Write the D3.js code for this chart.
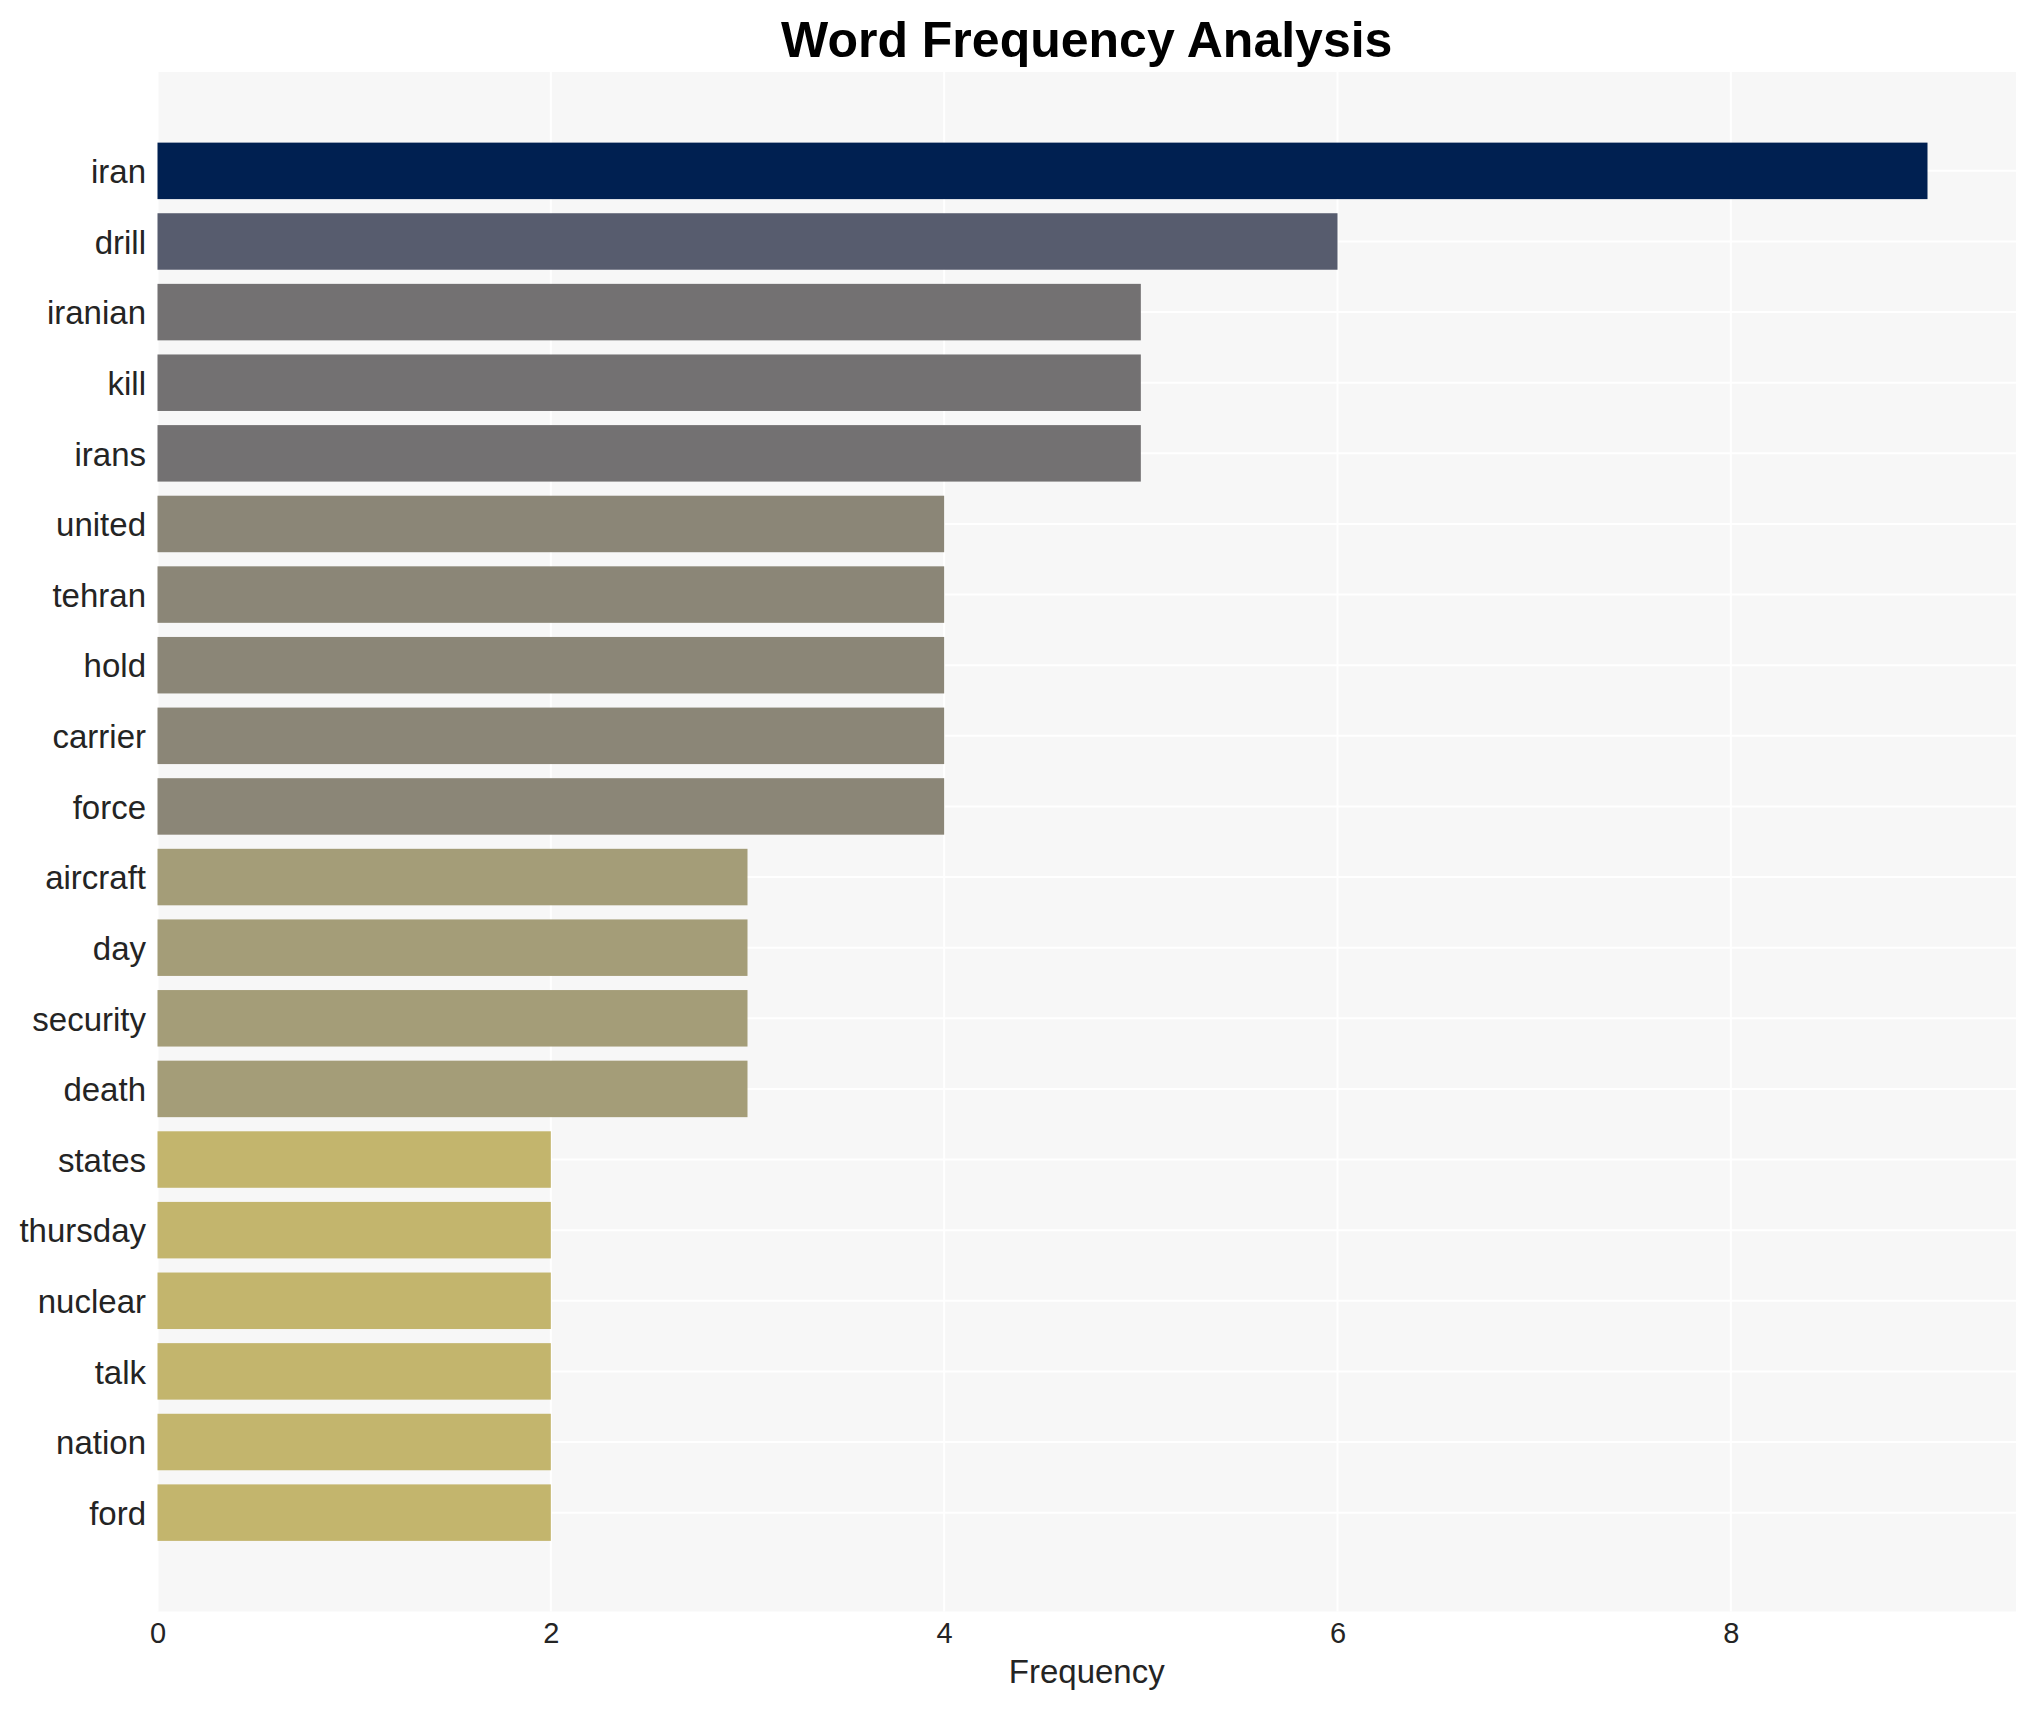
<!DOCTYPE html>
<html>
<head>
<meta charset="utf-8">
<script src="https://cdn.jsdelivr.net/npm/d3@7"></script>
<style>
  html, body { margin: 0; padding: 0; background: #ffffff; }
  svg { display: block; }
</style>
</head>
<body>
<svg id="chart" width="2037" height="1710"></svg>
<script>
const words = ["iran","drill","iranian","kill","irans","united","tehran","hold","carrier","force",
               "aircraft","day","security","death","states","thursday","nuclear","talk","nation","ford"];
const frequencies = [9,6,5,5,5,4,4,4,4,4,3,3,3,3,2,2,2,2,2,2];
const xTicks = [0,2,4,6,8];
const titleText = "Word Frequency Analysis";
const xTitle = "Frequency";

const W = 2037, H = 1710;
const m = {left: 157.5, right: 2016, top: 72, bottom: 1611.5};
const font = "'Liberation Sans', Arial, Helvetica, sans-serif";

const svg = d3.select("#chart");
const maxV = d3.max(frequencies);

const x = d3.scaleLinear().domain([0, maxV * 1.05]).range([m.left, m.right]);
const y = d3.scaleBand().domain(words).range([m.top, m.bottom]).paddingInner(0.2).paddingOuter(1.0);
const color = v => d3.interpolateCividis(1 - v / maxV);

// plot background
svg.append("rect")
  .attr("x", m.left).attr("y", m.top)
  .attr("width", m.right - m.left).attr("height", m.bottom - m.top)
  .attr("fill", "#f7f7f7");

// vertical gridlines
svg.append("g").selectAll("line").data(xTicks).join("line")
  .attr("x1", d => x(d)).attr("x2", d => x(d))
  .attr("y1", m.top).attr("y2", m.bottom)
  .attr("stroke", "#ffffff").attr("stroke-width", 2);

// horizontal gridlines at category centers
svg.append("g").selectAll("line").data(words).join("line")
  .attr("x1", m.left).attr("x2", m.right)
  .attr("y1", d => y(d) + y.bandwidth() / 2).attr("y2", d => y(d) + y.bandwidth() / 2)
  .attr("stroke", "#ffffff").attr("stroke-width", 2);

// bars
svg.append("g").selectAll("rect").data(words).join("rect")
  .attr("x", x(0))
  .attr("y", d => y(d))
  .attr("width", (d, i) => x(frequencies[i]) - x(0))
  .attr("height", y.bandwidth())
  .attr("fill", (d, i) => color(frequencies[i]));

// y axis labels
const yAxis = d3.axisLeft(y).tickSize(0).tickPadding(11.5);
const gy = svg.append("g").attr("transform", `translate(${m.left},0)`).call(yAxis);
gy.select(".domain").remove();
gy.selectAll("text")
  .style("font-family", font).style("font-size", "33px").attr("fill", "#242424")
  .attr("dy", "0.37em");

// x axis
const xAxis = d3.axisBottom(x).tickValues(xTicks).tickSize(0).tickPadding(11).tickFormat(d3.format("d"));
const gx = svg.append("g").attr("transform", `translate(0,${m.bottom})`).call(xAxis);
gx.select(".domain").remove();
gx.selectAll("text")
  .style("font-family", font).style("font-size", "29px").attr("fill", "#242424");

// x title
svg.append("text")
  .attr("x", (m.left + m.right) / 2).attr("y", 1683)
  .attr("text-anchor", "middle")
  .style("font-family", font).style("font-size", "33px").attr("fill", "#242424")
  .text(xTitle);

// title
svg.append("text")
  .attr("x", (m.left + m.right) / 2).attr("y", 56.5)
  .attr("text-anchor", "middle")
  .style("font-family", font).style("font-size", "50px").style("font-weight", "bold").attr("fill", "#000000")
  .text(titleText);
</script>
</body>
</html>
